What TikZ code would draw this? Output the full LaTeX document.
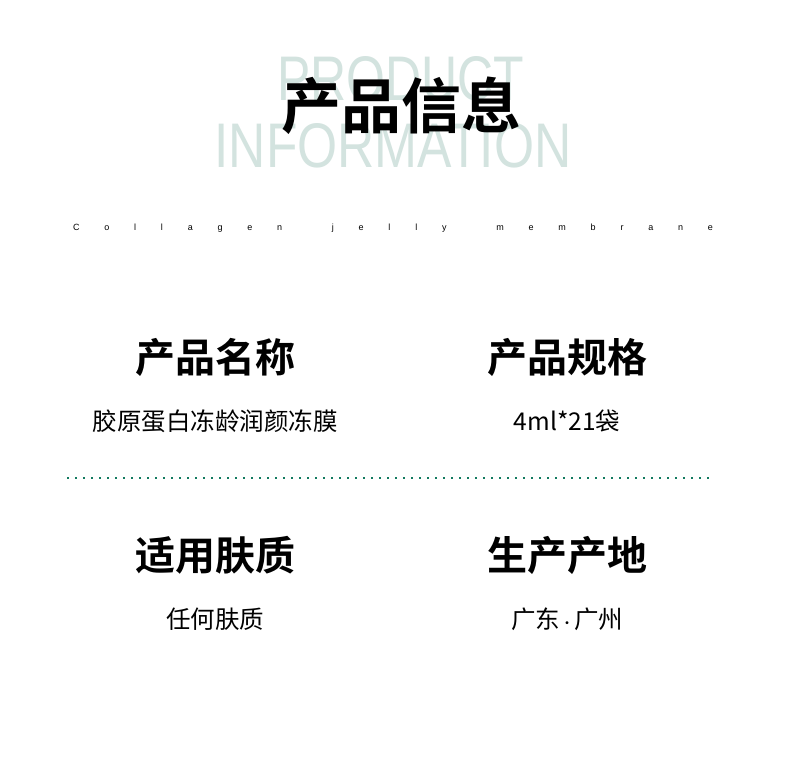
\documentclass[tikz,border=0pt]{standalone}
\usepackage{fontspec}
\setmainfont{Liberation Sans}
\newfontfamily\cjk{Noto Sans CJK SC}
\newfontfamily\cjkb{Noto Sans CJK SC Bold}
\definecolor{ghost}{HTML}{D3E3DF}
\definecolor{dotg}{HTML}{127A5E}
\tikzset{head/.style={font=\cjkb\fontsize{40}{44}\selectfont},
 val/.style={font=\cjk\fontsize{24.5}{28}\selectfont},
 ghosttxt/.style={text=ghost,inner sep=0}}
\begin{document}
\begin{tikzpicture}[x=1pt,y=-1pt]
\useasboundingbox[fill=white] (0,0) rectangle (790,768);
\node[ghosttxt] (pr) at (401,79) {\resizebox{247pt}{44pt}{\fontspec{Liberation Sans}PRODUCT}};
\node[ghosttxt] (inf) at (393,146) {\resizebox{357pt}{44pt}{\fontspec{Liberation Sans}INFORMATION}};
\node[font=\cjkb\fontsize{60}{64}\selectfont] (title) at (401,106) {产品信息};
\node[inner sep=0,font=\fontsize{9}{10}\selectfont] (sub) at (393,228) {\makebox[640pt]{C\hfill o\hfill l\hfill l\hfill a\hfill g\hfill e\hfill n\hfill\hfill j\hfill e\hfill l\hfill l\hfill y\hfill\hfill m\hfill e\hfill m\hfill b\hfill r\hfill a\hfill n\hfill e}};
\node[head] (h1) at (215,357) {产品名称};
\node[head] (h2) at (567,357) {产品规格};
\node[val] (v1) at (215,421) {胶原蛋白冻龄润颜冻膜};
\node[val] (v2) at (567,421) {4ml*21袋};
\coordinate (l1) at (67,478);
\coordinate (l2) at (712,478);
\draw[dotg,line width=1.5pt,dash pattern=on 2pt off 6pt] (l1) -- (l2);
\node[head] (h3) at (215,555) {适用肤质};
\node[head] (h4) at (567,555) {生产产地};
\node[val] (v3) at (215,619) {任何肤质};
\node[val] (v4) at (567,619) {广东{\fontsize{14}{14}\selectfont·}广州};
\end{tikzpicture}
\end{document}
